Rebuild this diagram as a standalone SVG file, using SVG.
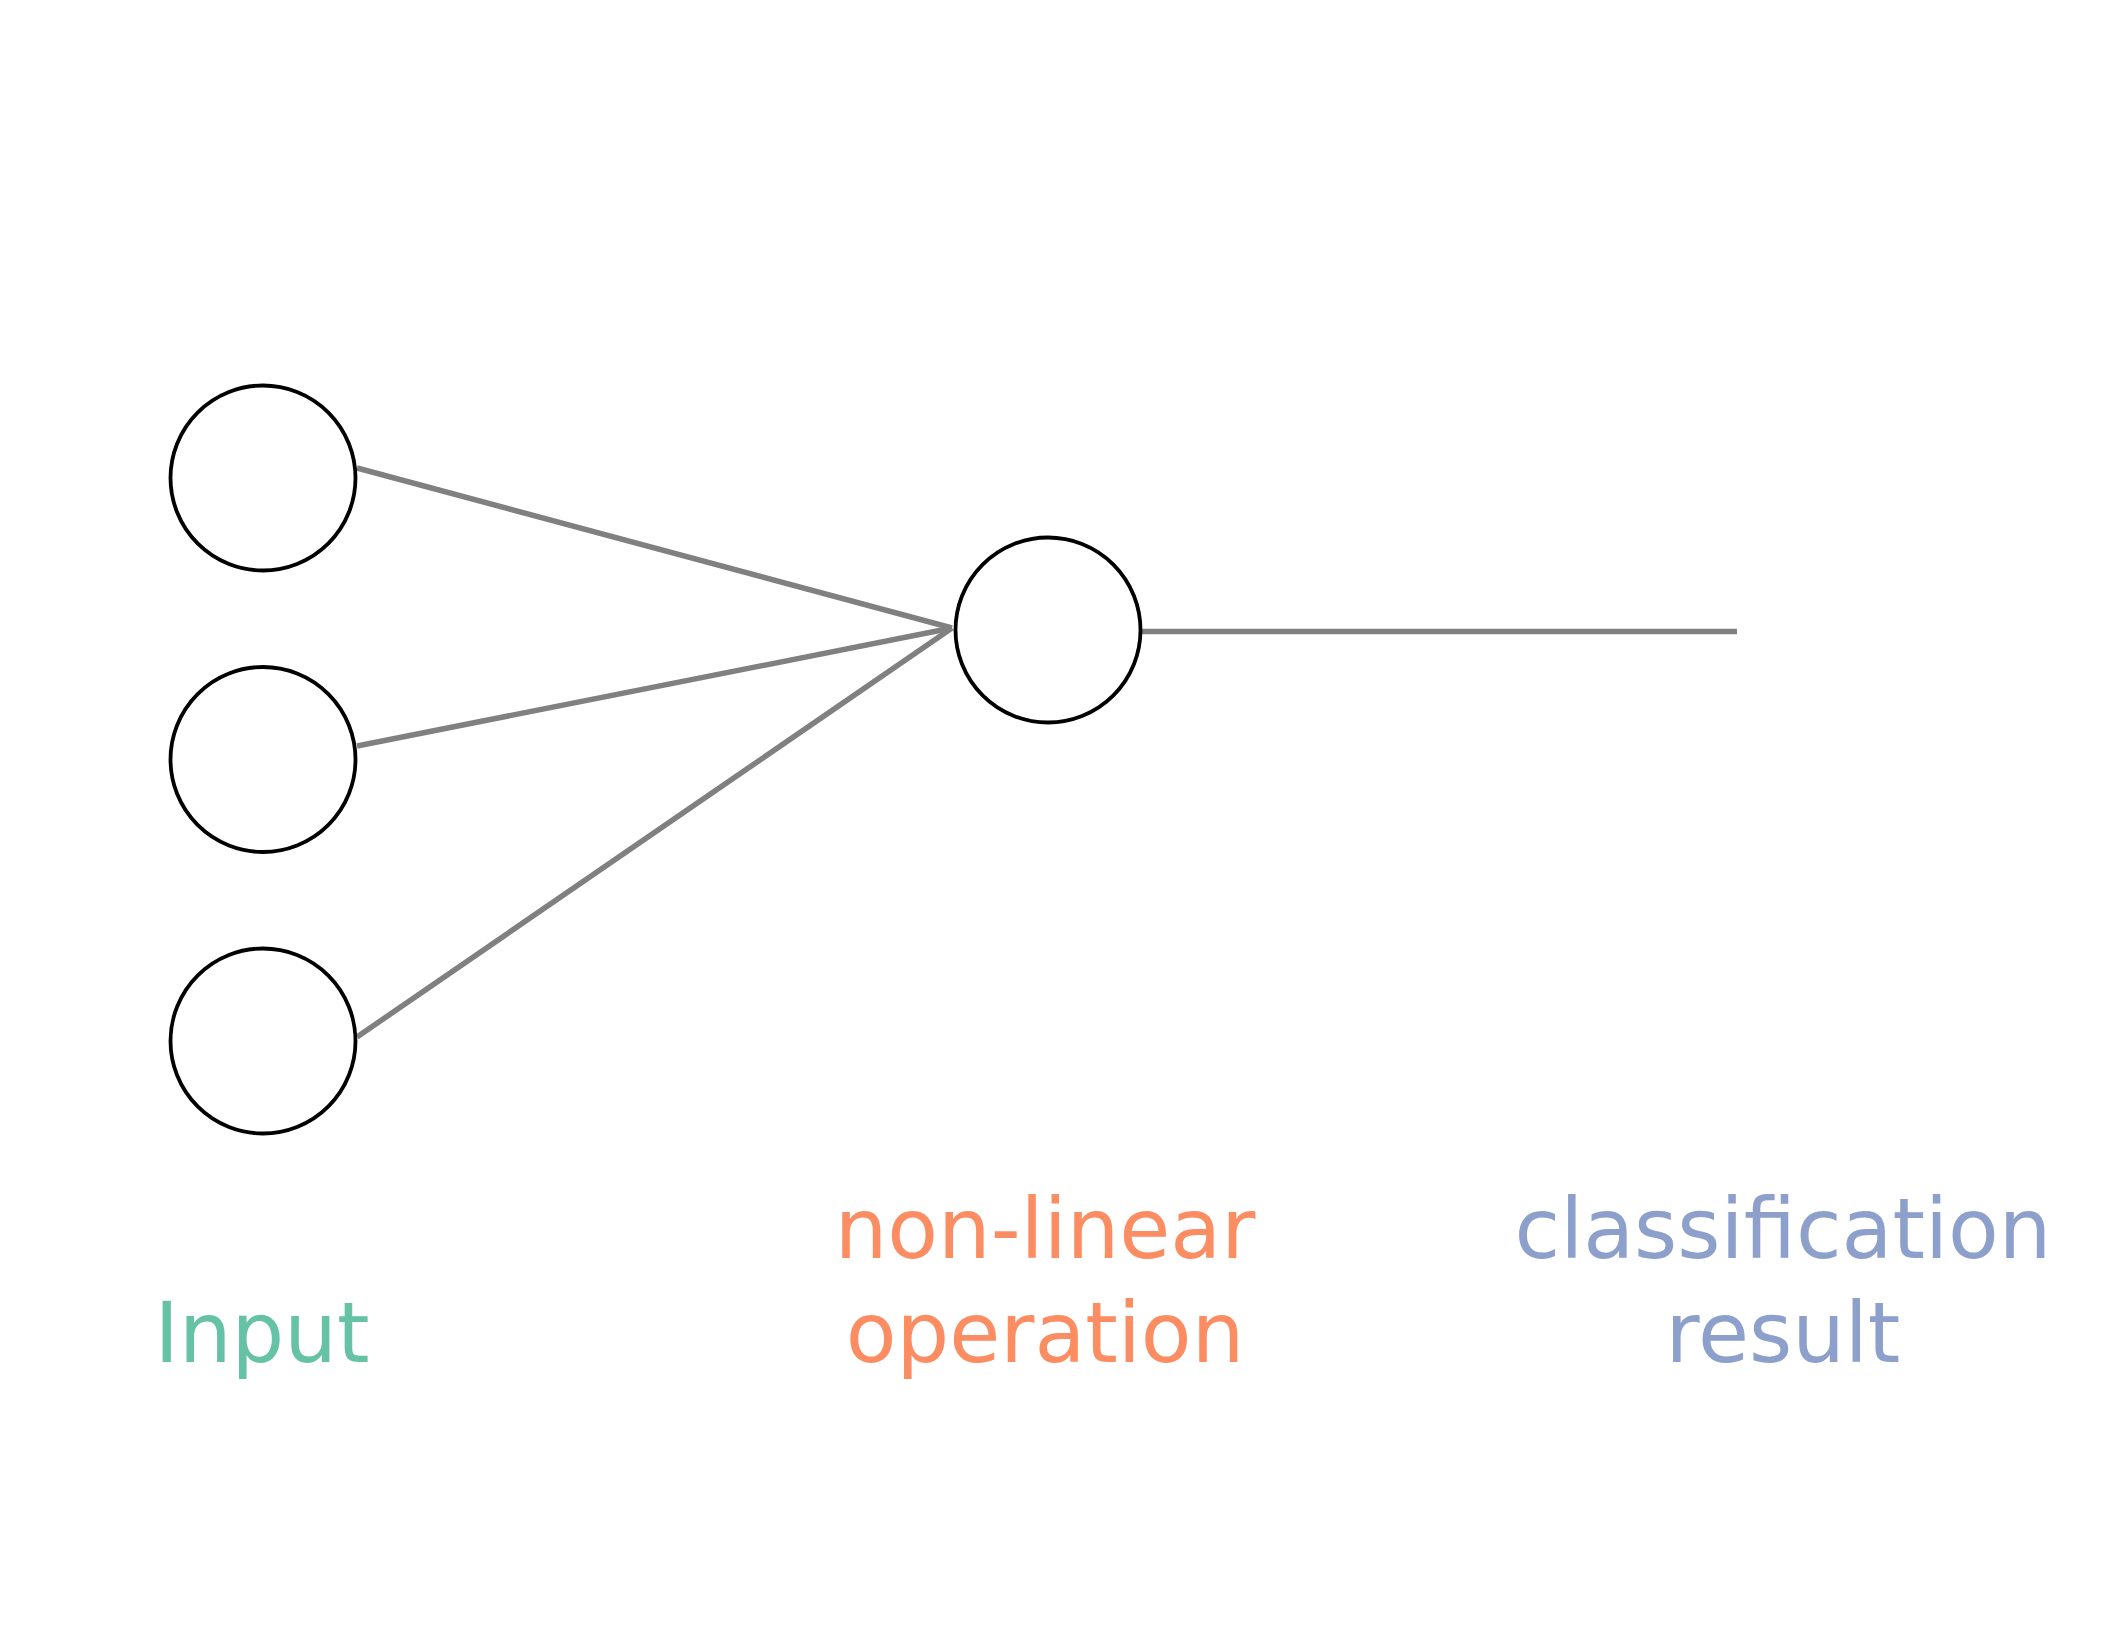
<svg xmlns="http://www.w3.org/2000/svg" width="2104" height="1651" viewBox="0 0 2104 1651">
<style>
.node{fill:#ffffff;stroke:#000000;stroke-width:3.8}
.edge{stroke:#808080;stroke-width:5.5;fill:none}
.lbl{font-family:"DejaVu Sans","Liberation Sans",sans-serif;font-size:83px;text-anchor:middle}
</style>
<rect width="2104" height="1651" fill="#ffffff"/>
<g id="connectors">
<line class="edge" x1="357" y1="468" x2="952" y2="628"/>
<line class="edge" x1="357" y1="746" x2="952" y2="628"/>
<line class="edge" x1="357" y1="1037" x2="952" y2="628"/>
<line class="edge" x1="1142" y1="631.5" x2="1737" y2="631.5"/>
</g>
<g id="input1"><circle class="node" cx="263" cy="478" r="92.5"/></g>
<g id="input2"><circle class="node" cx="263" cy="759.5" r="92.5"/></g>
<g id="input3"><circle class="node" cx="263" cy="1041" r="92.5"/></g>
<g id="neuron"><circle class="node" cx="1048" cy="630" r="92.5"/></g>
<g id="label-input"><text class="lbl" x="262" y="1362" fill="#66c2a5">Input</text></g>
<g id="label-nonlinear"><text class="lbl" x="1045" y="1258" fill="#fc8d62">non-linear</text><text class="lbl" x="1045" y="1362" fill="#fc8d62">operation</text></g>
<g id="label-result"><text class="lbl" x="1783" y="1258" fill="#8da0cb">classification</text><text class="lbl" x="1783" y="1362" fill="#8da0cb">result</text></g>
</svg>
